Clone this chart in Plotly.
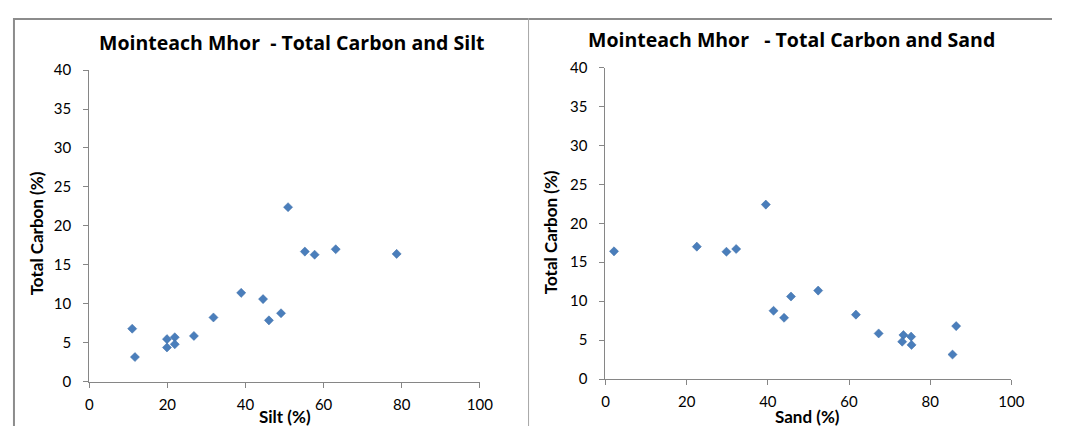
import plotly.graph_objects as go

# Data
silt = [11.0, 11.7, 19.9, 19.9, 21.9, 21.9, 26.8, 31.8, 38.9, 44.5, 46.0, 49.1, 50.9, 55.2, 57.7, 63.1, 78.7]
carbon_silt = [6.8, 3.16, 5.46, 4.39, 5.7, 4.8, 5.87, 8.24, 11.4, 10.6, 7.87, 8.78, 22.4, 16.7, 16.3, 17.0, 16.4]

sand = [2.1, 22.5, 29.8, 32.2, 39.5, 41.4, 44.0, 45.7, 52.4, 61.7, 67.3, 73.4, 73.1, 75.3, 75.4, 86.4, 85.5]
carbon_sand = [16.4, 17.0, 16.35, 16.7, 22.4, 8.77, 7.87, 10.6, 11.36, 8.27, 5.86, 5.65, 4.8, 5.45, 4.39, 6.8, 3.15]

x_ticks = [0, 20, 40, 60, 80, 100]
y_ticks = [0, 5, 10, 15, 20, 25, 30, 35, 40]

title_left = "Mointeach Mhor\u00a0\u00a0- Total Carbon and Silt"
title_right = "Mointeach Mhor\u00a0\u00a0\u00a0- Total Carbon and Sand"

# The page body adds an 8px margin; the figure starts at (8, 8) and runs to the window edge.
OFF = 8
W, H = 1065 - OFF, 434 - OFF
FONT = "Lato"
TFONT = "Open Sans"
marker = dict(symbol="diamond", size=7, color="#4a7ebb", line=dict(width=0.5, color="#3d6ca6"))

fig = go.Figure()
fig.add_trace(go.Scatter(x=silt, y=carbon_silt, mode="markers", marker=marker,
                         xaxis="x", yaxis="y", showlegend=False))
fig.add_trace(go.Scatter(x=sand, y=carbon_sand, mode="markers", marker=marker,
                         xaxis="x2", yaxis="y2", showlegend=False))


def px_x(p):
    return (p - OFF) / W


def px_y(p):
    return 1 - (p - OFF) / H


axis_common = dict(showgrid=False, zeroline=False, showline=True, linecolor="#868686",
                   linewidth=1, ticks="outside", ticklen=5, tickcolor="#868686",
                   tickfont=dict(family=FONT, size=15, color="#000000"))
xax = dict(range=[0, 100], tickvals=x_ticks, ticklabelstandoff=4, **axis_common)
yax = dict(range=[0, 40], tickvals=y_ticks, ticklabelstandoff=9, **axis_common)

fig.update_layout(
    width=W, height=H,
    margin=dict(l=0, r=0, t=0, b=0),
    paper_bgcolor="white", plot_bgcolor="white",
    xaxis=dict(domain=[px_x(86.5), px_x(483.5)], anchor="y", **xax),
    yaxis=dict(domain=[px_y(387.7), px_y(62.4)], anchor="x", **yax),
    xaxis2=dict(domain=[px_x(611.2), px_x(1023.7)], anchor="y2", **xax),
    yaxis2=dict(domain=[px_y(385), px_y(59.7)], anchor="x2", **yax),
)

ann = []
tfont = dict(family=TFONT, size=19.5, color="#000000")
afont = dict(family=FONT, size=17, color="#000000")
ann.append(dict(text="<b>%s</b>" % title_left, x=px_x(292.7), y=px_y(33.4), xref="paper", yref="paper",
                showarrow=False, font=tfont, xanchor="center", yanchor="middle"))
ann.append(dict(text="<b>%s</b>" % title_right, x=px_x(800.3), y=px_y(30.5), xref="paper", yref="paper",
                showarrow=False, font=tfont, xanchor="center", yanchor="middle"))
ann.append(dict(text="<b>Silt (%)</b>", x=px_x(285), y=px_y(424), xref="paper", yref="paper",
                showarrow=False, font=afont, xanchor="center", yanchor="middle"))
ann.append(dict(text="<b>Sand (%)</b>", x=px_x(817), y=px_y(424), xref="paper", yref="paper",
                showarrow=False, font=afont, xanchor="center", yanchor="middle"))
ann.append(dict(text="<b>Total Carbon (%)</b>", x=px_x(32.7), y=px_y(232.5), xref="paper", yref="paper",
                showarrow=False, font=afont, textangle=-90, xanchor="center", yanchor="middle"))
ann.append(dict(text="<b>Total Carbon (%)</b>", x=px_x(554.7), y=px_y(231.7), xref="paper", yref="paper",
                showarrow=False, font=afont, textangle=-90, xanchor="center", yanchor="middle"))
fig.update_layout(annotations=ann)

shapes = [
    dict(type="line", xref="paper", yref="paper", x0=px_x(10), x1=1, y0=1 - 1 / H, y1=1 - 1 / H,
         line=dict(color="#8c8c8c", width=2)),
    dict(type="line", xref="paper", yref="paper", x0=px_x(10), x1=px_x(10), y0=1, y1=0,
         line=dict(color="#8c8c8c", width=2)),
    dict(type="line", xref="paper", yref="paper", x0=px_x(533), x1=px_x(533), y0=1, y1=0,
         line=dict(color="#a6a6a6", width=1)),
]
fig.update_layout(shapes=shapes)

fig.write_html("out.html")
